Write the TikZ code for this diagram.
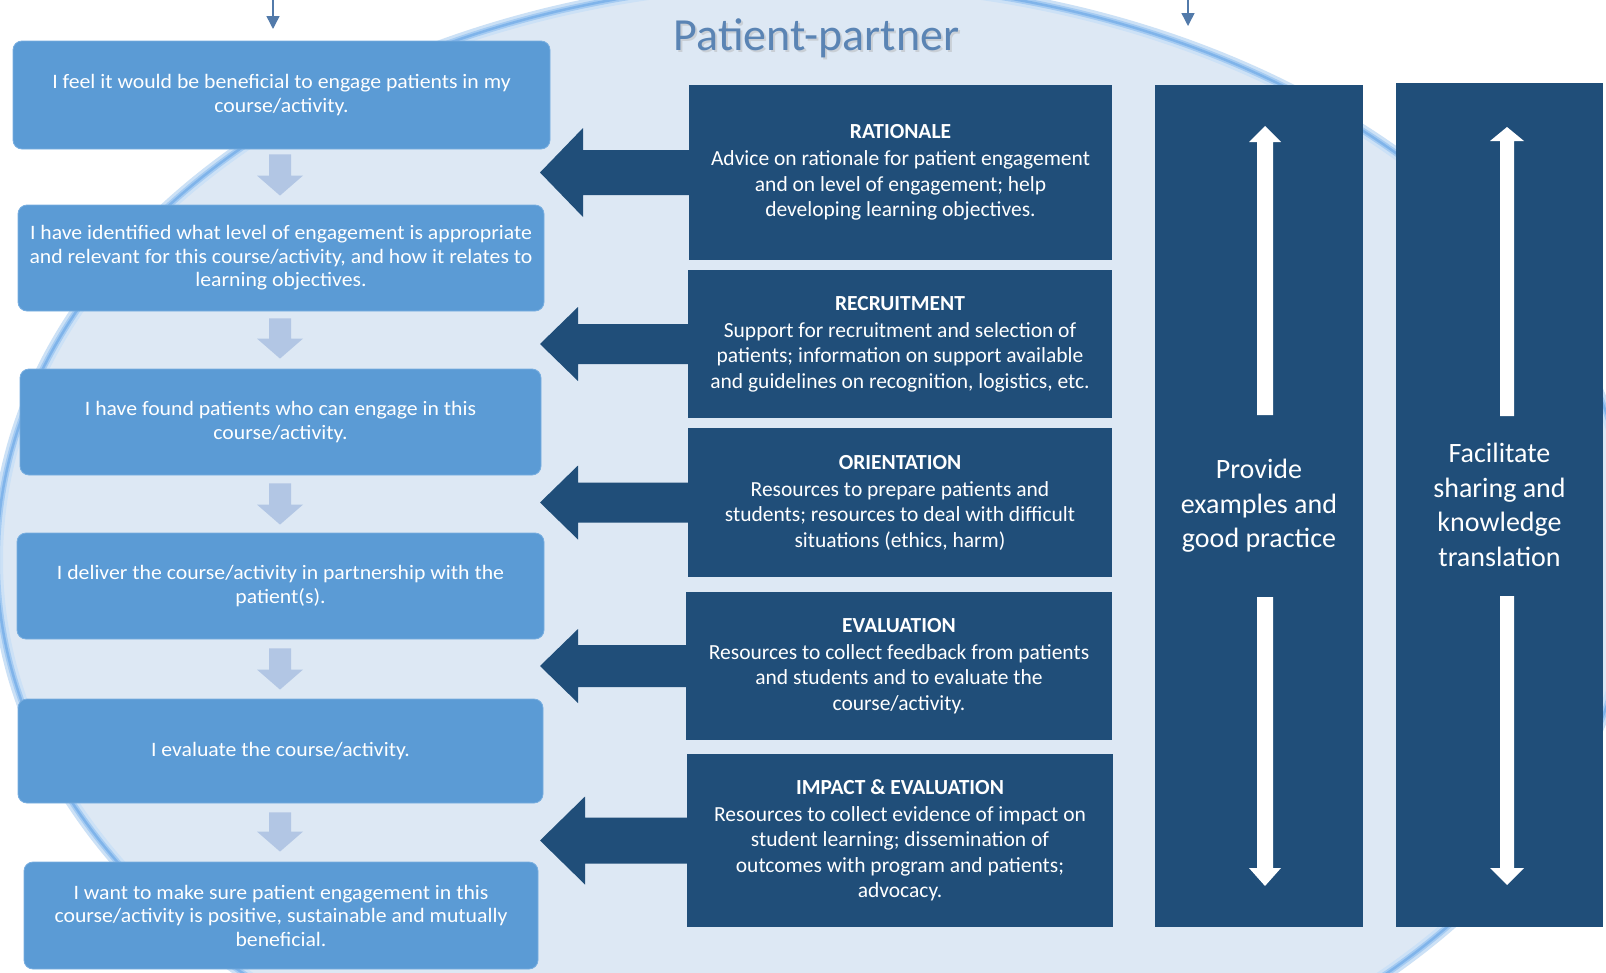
\documentclass[tikz,border=0pt]{standalone}
\usepackage{fontspec}
\setmainfont{Carlito}
\newfontfamily\leftfont[FakeStretch=1.06]{Carlito}
\usetikzlibrary{calc,arrows.meta}
\definecolor{ellfill}{RGB}{221,232,244}
\definecolor{ellglow}{RGB}{204,225,246}
\definecolor{ellmid}{RGB}{165,203,242}
\definecolor{ellline}{RGB}{128,180,234}
\definecolor{lblue}{RGB}{91,155,213}
\definecolor{lblueedge}{RGB}{120,174,224}
\definecolor{dblue}{RGB}{32,78,121}
\definecolor{arrlight}{RGB}{178,198,228}
\definecolor{titlec}{RGB}{90,132,180}
\definecolor{toparrc}{RGB}{82,122,170}
\tikzset{
 lbox/.style={rectangle, rounded corners=9pt, fill=lblue, draw=lblueedge, line width=0.8pt, text=white, align=center, inner sep=0pt, font=\leftfont\fontsize{20.5}{23.5}\selectfont},
 rbox/.style={rectangle, fill=dblue, text=white, align=center, inner sep=0pt, font=\fontsize{21.5}{25.5}\selectfont},
 cbox/.style={rectangle, fill=dblue, text=white, align=center, inner sep=0pt, font=\fontsize{28}{34.5}\selectfont},
 lightarr/.style={fill=arrlight},
 darkarr/.style={fill=dblue},
 whitearr/.style={fill=white},
 toparr/.style={draw=toparrc, line width=1.5pt, -{Triangle[width=13pt,length=13pt]}},
 titlestyle/.style={font=\fontsize{46}{52}\selectfont, anchor=base, inner sep=0pt}
}
% down block arrow from #1 (top centre) to #2 (tip)
\newcommand{\downblock}[2]{%
 \fill[lightarr] ($(#1)+(-11,0)$) -- ($(#1)+(11,0)$) -- ($(#2)+(11,-20)$) -- ($(#2)+(23,-20)$) -- (#2) -- ($(#2)+(-23,-20)$) -- ($(#2)+(-11,-20)$) -- cycle;}
% left block arrow from #1 (start) to #2 (tip); #3 shaft half, #4 head half, #5 head length
\newcommand{\leftblock}[5]{%
 \fill[darkarr] ($(#1)+(2,-#3)$) -- ($(#2)+(#5,-#3)$) -- ($(#2)+(#5,-#4)$) -- (#2) -- ($(#2)+(#5,#4)$) -- ($(#2)+(#5,#3)$) -- ($(#1)+(2,#3)$) -- cycle;}
% white up arrow: #1 tip, #2 shaft end; #3 shaft half, #4 head half, #5 head length
\newcommand{\upwhite}[5]{%
 \fill[whitearr] (#1) -- ($(#1)+(#4,#5)$) -- ($(#1)+(#3,#5)$) -- ($(#2)+(#3,0)$) -- ($(#2)+(-#3,0)$) -- ($(#1)+(-#3,#5)$) -- ($(#1)+(-#4,#5)$) -- cycle;}
\newcommand{\downwhite}[5]{%
 \fill[whitearr] (#1) -- ($(#1)+(#4,-#5)$) -- ($(#1)+(#3,-#5)$) -- ($(#2)+(#3,0)$) -- ($(#2)+(-#3,0)$) -- ($(#1)+(-#3,-#5)$) -- ($(#1)+(-#4,-#5)$) -- cycle;}
\begin{document}
\begin{tikzpicture}[x=1pt,y=-1pt]
\useasboundingbox (0,0) rectangle (1606,972);
\fill[white] (0,0) rectangle (1606,972);
% background ellipse
\begin{scope}
\clip (0,0) rectangle (1606,972);
\fill[ellfill] (815,560) ellipse [x radius=818, y radius=578];
\draw[ellglow, line width=12pt] (815,560) ellipse [x radius=818, y radius=578];
\draw[ellmid, line width=6pt] (815,560) ellipse [x radius=818, y radius=578];
\draw[ellline, line width=2.5pt] (815,560) ellipse [x radius=818, y radius=578];
\end{scope}

% title
\node[titlestyle, text=black!30, opacity=0.45] (titleshadow) at (818.5,52.5) {Patient-partner};
\node[titlestyle, text=titlec] (title) at (816.5,50) {Patient-partner};

% top arrows
\coordinate (ta1) at (273,-2);
\coordinate (tb1) at (273,29);
\coordinate (ta2) at (1188,-2);
\coordinate (tb2) at (1188,26);
\draw[toparr] (ta1) -- (tb1);
\draw[toparr] (ta2) -- (tb2);

% left boxes
\node[lbox, minimum width=537pt, minimum height=108pt] (b1) at (281.5,95) {I feel it would be beneficial to engage patients in my\\course/activity.};
\node[lbox, minimum width=526pt, minimum height=106pt] (b2) at (281,258) {I have identified what level of engagement is appropriate\\and relevant for this course/activity, and how it relates to\\learning objectives.};
\node[lbox, minimum width=521pt, minimum height=106pt] (b3) at (280.5,422) {I have found patients who can engage in this\\course/activity.};
\node[lbox, minimum width=527pt, minimum height=106pt] (b4) at (280.5,586) {I deliver the course/activity in partnership with the\\patient(s).};
\node[lbox, minimum width=525pt, minimum height=104pt] (b5) at (280.5,751) {I evaluate the course/activity.};
\node[lbox, minimum width=514pt, minimum height=107pt] (b6) at (281,915.5) {I want to make sure patient engagement in this\\course/activity is positive, sustainable and mutually\\beneficial.};

% down arrows between left boxes
\coordinate (ax) at (280,0);
\coordinate (d1a) at ($(b1.south -| ax)+(0,5)$);
\coordinate (d1b) at ($(b2.north -| ax)+(0,-9)$);
\coordinate (d2a) at ($(b2.south -| ax)+(0,7)$);
\coordinate (d2b) at ($(b3.north -| ax)+(0,-10)$);
\coordinate (d3a) at ($(b3.south -| ax)+(0,8)$);
\coordinate (d3b) at ($(b4.north -| ax)+(0,-8)$);
\coordinate (d4a) at ($(b4.south -| ax)+(0,9)$);
\coordinate (d4b) at ($(b5.north -| ax)+(0,-9)$);
\coordinate (d5a) at ($(b5.south -| ax)+(0,9)$);
\coordinate (d5b) at ($(b6.north -| ax)+(0,-10)$);
\downblock{d1a}{d1b}
\downblock{d2a}{d2b}
\downblock{d3a}{d3b}
\downblock{d4a}{d4b}
\downblock{d5a}{d5b}

% middle dark boxes
\node[rbox, minimum width=423pt, minimum height=175pt] (r1) at (900.5,172.5) {\textbf{RATIONALE}\\[1.5pt]Advice on rationale for patient engagement\\and on level of engagement; help\\developing learning objectives.};
\node[rbox, minimum width=424pt, minimum height=148pt] (r2) at (900,344) {\textbf{RECRUITMENT}\\[1.5pt]Support for recruitment and selection of\\patients; information on support available\\and guidelines on recognition, logistics, etc.};
\node[rbox, minimum width=424pt, minimum height=149pt] (r3) at (900,502.5) {\textbf{ORIENTATION}\\[1.5pt]Resources to prepare patients and\\students; resources to deal with difficult\\situations (ethics, harm)};
\node[rbox, minimum width=426pt, minimum height=148pt] (r4) at (899,666) {\textbf{EVALUATION}\\[1.5pt]Resources to collect feedback from patients\\and students and to evaluate the\\course/activity.};
\node[rbox, minimum width=426pt, minimum height=173pt] (r5) at (900,840.5) {\textbf{IMPACT \& EVALUATION}\\[1.5pt]Resources to collect evidence of impact on\\student learning; dissemination of\\outcomes with program and patients;\\advocacy.};

% left-pointing block arrows
\coordinate (tipx) at (540,0);
\coordinate (t1) at (r1.west -| tipx);
\coordinate (t2) at (r2.west -| tipx);
\coordinate (t3) at (r3.west -| tipx);
\coordinate (t4) at (r4.west -| tipx);
\coordinate (t5) at (r5.west -| tipx);
\leftblock{r1.west}{t1}{22.5}{44.5}{43}
\leftblock{r2.west}{t2}{20}{37}{38}
\leftblock{r3.west}{t3}{20}{37}{38}
\leftblock{r4.west}{t4}{21}{37}{38}
\leftblock{r5.west}{t5}{23}{44}{45}

% right columns
\node[cbox, minimum width=208pt, minimum height=842pt] (c1) at (1259,506) {Provide\\examples and\\good practice};
\node[cbox, minimum width=207pt, minimum height=844pt] (c2) at (1499.5,505) {Facilitate\\sharing and\\knowledge\\translation};

% white double arrows
\coordinate (u1t) at (1265,126);
\coordinate (u1b) at (1265,415);
\coordinate (w1t) at (1265,886);
\coordinate (w1b) at (1265,597);
\coordinate (u2t) at (1507,127);
\coordinate (u2b) at (1507,416);
\coordinate (w2t) at (1507,885);
\coordinate (w2b) at (1507,596);
\upwhite{u1t}{u1b}{8}{16}{16}
\downwhite{w1t}{w1b}{8}{16}{18}
\upwhite{u2t}{u2b}{7}{17}{14}
\downwhite{w2t}{w2b}{7}{17}{17}
\end{tikzpicture}
\end{document}
